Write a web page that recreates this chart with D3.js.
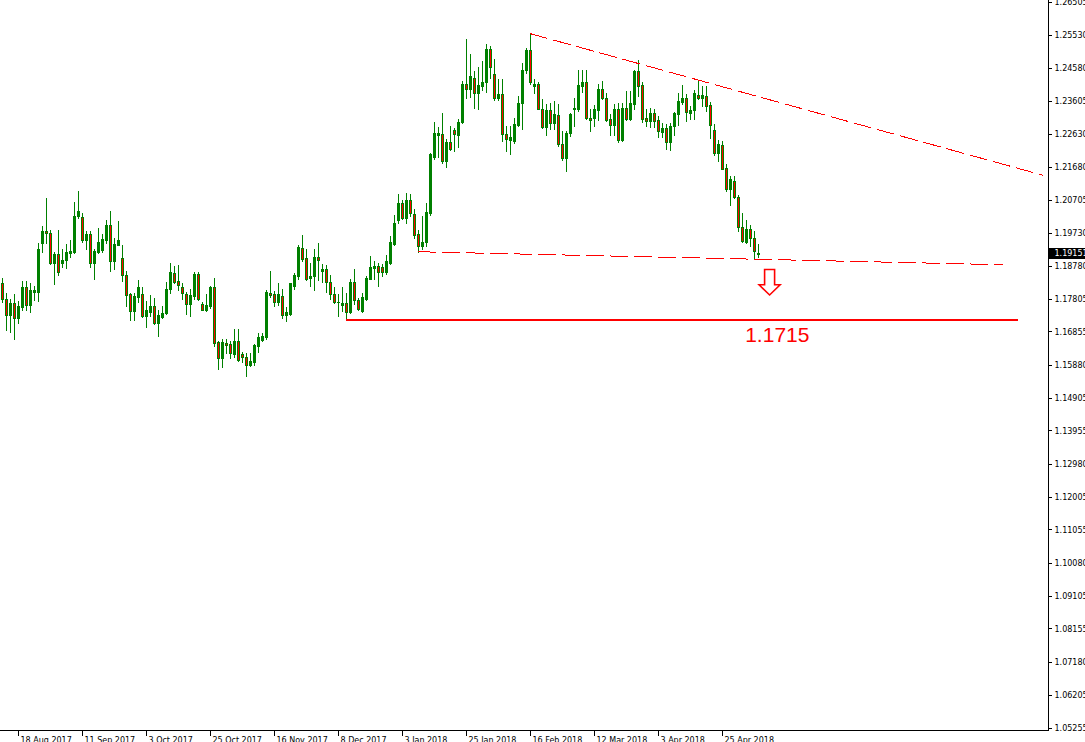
<!DOCTYPE html>
<html>
<head>
<meta charset="utf-8">
<script src="https://cdn.jsdelivr.net/npm/d3@7"></script>
<style>
  html, body { margin: 0; padding: 0; background: #ffffff; overflow: hidden; }
  svg { display: block; }
</style>
</head>
<body>
<svg id="chart" width="1085" height="742"></svg>
<script>
// ---------------- DATA ----------------
const startDate = "2017-08-14";
const holidays = ["2017-12-25", "2018-01-01"];

const openVals = [
1.1826,1.1782,1.1733,1.1769,1.1724,1.1757,1.1817,1.1762,1.1800,1.1800,
1.1944,1.1981,1.1975,1.1885,1.1911,1.1885,1.1894,1.1916,1.1918,1.2023,
1.2020,1.1953,1.1970,1.1885,1.1919,1.1923,1.1952,1.1996,1.1891,1.1940,
1.1902,1.1852,1.1794,1.1745,1.1787,1.1794,1.1730,1.1742,1.1761,1.1711,
1.1727,1.1739,1.1809,1.1858,1.1832,1.1817,1.1796,1.1767,1.1789,1.1854,
1.1767,1.1747,1.1761,1.1815,1.1654,1.1607,1.1653,1.1650,1.1620,1.1659,
1.1619,1.1612,1.1586,1.1595,1.1642,1.1660,1.1669,1.1798,1.1794,1.1771,
1.1789,1.1733,1.1737,1.1820,1.1849,1.1929,1.1902,1.1841,1.1847,1.1905,
1.1862,1.1867,1.1829,1.1796,1.1773,1.1764,1.1769,1.1743,1.1829,1.1779,
1.1745,1.1782,1.1840,1.1870,1.1876,1.1873,1.1859,1.1886,1.1942,1.2012,
1.2061,1.2019,1.2072,1.2031,1.1970,1.1935,1.1947,1.2032,1.2197,1.2262,
1.2263,1.2185,1.2239,1.2275,1.2261,1.2300,1.2410,1.2397,1.2429,1.2385,
1.2403,1.2417,1.2512,1.2439,1.2369,1.2380,1.2265,1.2247,1.2242,1.2291,
1.2354,1.2451,1.2509,1.2405,1.2410,1.2338,1.2284,1.2333,1.2295,1.2319,
1.2236,1.2194,1.2268,1.2336,1.2336,1.2405,1.2417,1.2312,1.2310,1.2334,
1.2395,1.2370,1.2307,1.2291,1.2338,1.2246,1.2341,1.2307,1.2351,1.2447,
1.2407,1.2310,1.2302,1.2324,1.2304,1.2269,1.2280,1.2241,1.2286,1.2321,
1.2358,1.2368,1.2326,1.2333,1.2379,1.2369,1.2376,1.2348,1.2277,1.2208,
1.2232,1.2163,1.2102,1.2127,1.2079,1.1992,1.1948,1.1987,1.1958,1.1912
];
const highVals = [
1.1841,1.1798,1.1782,1.1794,1.1776,1.1832,1.1832,1.1826,1.1820,1.1946,
1.1994,1.2075,1.1984,1.1918,1.1984,1.1926,1.1942,1.1954,1.2064,1.2096,
1.2033,1.1981,1.1979,1.1926,1.1990,1.1970,1.2012,1.2037,1.1960,1.2008,
1.1940,1.1862,1.1798,1.1798,1.1835,1.1817,1.1776,1.1791,1.1784,1.1747,
1.1761,1.1829,1.1885,1.1877,1.1879,1.1826,1.1800,1.1811,1.1861,1.1861,
1.1773,1.1796,1.1820,1.1841,1.1659,1.1662,1.1664,1.1657,1.1692,1.1692,
1.1626,1.1621,1.1621,1.1649,1.1681,1.1680,1.1808,1.1864,1.1805,1.1826,
1.1811,1.1756,1.1828,1.1857,1.1940,1.1967,1.1926,1.1887,1.1926,1.1945,
1.1882,1.1879,1.1852,1.1816,1.1794,1.1815,1.1798,1.1838,1.1867,1.1784,
1.1798,1.1847,1.1906,1.1893,1.1885,1.1882,1.1908,1.1965,1.2028,1.2087,
1.2072,1.2092,1.2087,1.2043,1.1984,1.2023,1.2063,1.2209,1.2300,1.2285,
1.2326,1.2248,1.2287,1.2280,1.2308,1.2419,1.2542,1.2498,1.2449,1.2460,
1.2478,1.2527,1.2522,1.2485,1.2424,1.2424,1.2287,1.2287,1.2312,1.2375,
1.2473,1.2517,1.2558,1.2424,1.2416,1.2366,1.2351,1.2356,1.2361,1.2351,
1.2273,1.2273,1.2324,1.2368,1.2451,1.2451,1.2451,1.2338,1.2348,1.2410,
1.2418,1.2385,1.2321,1.2351,1.2356,1.2356,1.2390,1.2390,1.2452,1.2480,
1.2417,1.2336,1.2341,1.2338,1.2316,1.2297,1.2292,1.2295,1.2328,1.2385,
1.2407,1.2380,1.2346,1.2393,1.2421,1.2405,1.2405,1.2358,1.2292,1.2245,
1.2242,1.2175,1.2141,1.2141,1.2085,1.2033,1.2011,1.1996,1.1979,1.1941
];
const lowVals = [
1.1771,1.1689,1.1683,1.1663,1.1709,1.1748,1.1748,1.1742,1.1777,1.1774,
1.1918,1.1946,1.1883,1.1824,1.1850,1.1873,1.1871,1.1903,1.1915,1.2018,
1.1949,1.1926,1.1874,1.1839,1.1915,1.1919,1.1945,1.1862,1.1869,1.1939,
1.1833,1.1759,1.1718,1.1720,1.1773,1.1729,1.1698,1.1732,1.1707,1.1671,
1.1724,1.1738,1.1798,1.1827,1.1806,1.1780,1.1736,1.1730,1.1780,1.1777,
1.1748,1.1744,1.1753,1.1642,1.1575,1.1580,1.1623,1.1607,1.1612,1.1600,
1.1597,1.1554,1.1583,1.1586,1.1625,1.1657,1.1664,1.1787,1.1761,1.1762,
1.1725,1.1715,1.1733,1.1811,1.1838,1.1891,1.1837,1.1819,1.1808,1.1836,
1.1831,1.1802,1.1781,1.1769,1.1730,1.1745,1.1720,1.1740,1.1767,1.1748,
1.1743,1.1779,1.1838,1.1838,1.1818,1.1847,1.1855,1.1884,1.1938,1.2004,
1.2016,1.2004,1.2023,1.1958,1.1919,1.1926,1.1935,1.2028,1.2190,1.2196,
1.2180,1.2168,1.2217,1.2214,1.2227,1.2297,1.2369,1.2371,1.2340,1.2338,
1.2392,1.2387,1.2429,1.2364,1.2363,1.2243,1.2215,1.2205,1.2238,1.2287,
1.2278,1.2444,1.2410,1.2385,1.2336,1.2280,1.2260,1.2279,1.2278,1.2229,
1.2188,1.2155,1.2258,1.2287,1.2331,1.2388,1.2308,1.2274,1.2287,1.2305,
1.2366,1.2302,1.2260,1.2260,1.2240,1.2243,1.2305,1.2305,1.2337,1.2376,
1.2299,1.2287,1.2285,1.2283,1.2255,1.2256,1.2219,1.2217,1.2260,1.2289,
1.2351,1.2302,1.2307,1.2307,1.2366,1.2346,1.2331,1.2251,1.2201,1.2184,
1.2160,1.2097,1.2057,1.2077,1.1979,1.1948,1.1945,1.1936,1.1898,1.1903
];
const closeVals = [
1.1781,1.1733,1.1770,1.1725,1.1761,1.1817,1.1762,1.1808,1.1808,1.1926,
1.1981,1.1974,1.1885,1.1911,1.1860,1.1896,1.1917,1.1921,1.2025,1.2037,
1.1952,1.1970,1.1885,1.1921,1.1949,1.1955,1.1996,1.1891,1.1943,1.1952,
1.1850,1.1792,1.1745,1.1789,1.1817,1.1732,1.1747,1.1761,1.1709,1.1735,
1.1740,1.1811,1.1860,1.1830,1.1821,1.1798,1.1767,1.1791,1.1855,1.1780,
1.1749,1.1763,1.1815,1.1651,1.1607,1.1654,1.1645,1.1622,1.1659,1.1603,
1.1611,1.1586,1.1598,1.1645,1.1668,1.1671,1.1800,1.1792,1.1771,1.1794,
1.1733,1.1742,1.1826,1.1852,1.1934,1.1899,1.1840,1.1849,1.1905,1.1896,
1.1868,1.1829,1.1796,1.1773,1.1771,1.1769,1.1743,1.1829,1.1778,1.1751,
1.1786,1.1841,1.1873,1.1876,1.1861,1.1860,1.1891,1.1947,1.2004,1.2061,
1.2019,1.2072,1.2033,1.1967,1.1937,1.1949,1.2035,1.2204,1.2266,1.2266,
1.2185,1.2239,1.2219,1.2265,1.2300,1.2410,1.2397,1.2434,1.2385,1.2407,
1.2416,1.2512,1.2459,1.2370,1.2380,1.2265,1.2250,1.2255,1.2294,1.2354,
1.2451,1.2509,1.2415,1.2410,1.2338,1.2284,1.2333,1.2296,1.2322,1.2236,
1.2194,1.2268,1.2321,1.2339,1.2407,1.2417,1.2311,1.2306,1.2338,1.2395,
1.2370,1.2305,1.2291,1.2338,1.2246,1.2341,1.2307,1.2356,1.2447,1.2405,
1.2307,1.2302,1.2324,1.2302,1.2272,1.2280,1.2241,1.2286,1.2324,1.2360,
1.2370,1.2328,1.2334,1.2383,1.2370,1.2377,1.2346,1.2290,1.2209,1.2235,
1.2162,1.2104,1.2131,1.2079,1.1991,1.1950,1.1987,1.1960,1.1922,1.19151
];

const priceTicks = [1.26505,1.25530,1.24580,1.23605,1.22630,1.21680,1.20705,1.19730,
  1.18780,1.17805,1.16855,1.15880,1.14905,1.13955,1.12980,1.12005,1.11055,1.10080,
  1.09105,1.08155,1.07180,1.06205,1.05255];
const dateTickLabels = ["18 Aug 2017","11 Sep 2017","3 Oct 2017","25 Oct 2017","16 Nov 2017",
  "8 Dec 2017","3 Jan 2018","25 Jan 2018","16 Feb 2018","12 Mar 2018","3 Apr 2018","25 Apr 2018"];

const currentPrice = 1.19151;
// trend lines: [barIndex, price]
const resistanceLine = [[132, 1.2558], [260.25, 1.2143]];
const necklineLine = [[104, 1.1919], [250.25, 1.1881]];
const targetLevel = [[86, 1.1720], [254, 1.1720]];
const targetLabel = { index: 185.8, price: 1.1655, text: "1.1715" };
const arrowAnchor = { index: 191.9, top: 1.1867, tip: 1.17923 };

// ---------------- BUILD DATES ----------------
const parse = d3.timeParse("%Y-%m-%d");
const fmtKey = d3.timeFormat("%Y-%m-%d");
const fmtLabel = d3.timeFormat("%-d %b %Y");
const dates = [];
{
  let d = parse(startDate);
  while (dates.length < openVals.length) {
    const wd = d.getDay();
    if (wd !== 0 && wd !== 6 && !holidays.includes(fmtKey(d))) dates.push(new Date(d));
    d = d3.timeDay.offset(d, 1);
  }
}
const bars = openVals.map((o, i) => ({
  i, date: dates[i], o, h: highVals[i], l: lowVals[i], c: closeVals[i]
}));
const dateTicks = dateTickLabels.map(lbl => dates.findIndex(d => fmtLabel(d) === lbl));

// ---------------- SCALES ----------------
const plotRight = 1048, axisBottomY = 730;
const x = d3.scaleLinear().domain([-0.5, 261.5]).range([0, plotRight]);
const y = d3.scaleLinear().domain([1.05255, 1.26505]).range([727.5, 2]);

const GREEN = "#008000", RED = "#ff0000";
const svg = d3.select("#chart");
svg.append("rect").attr("width", 1085).attr("height", 742).attr("fill", "#fff");

// ---------------- CANDLES ----------------
const gC = svg.append("g").attr("shape-rendering", "crispEdges");
const candle = gC.selectAll("g.c").data(bars).join("g").attr("class", "c");
candle.append("rect")
  .attr("x", d => Math.round(x(d.i)))
  .attr("width", 1)
  .attr("y", d => Math.round(y(d.h)))
  .attr("height", d => Math.round(y(d.l)) - Math.round(y(d.h)) + 1)
  .attr("fill", GREEN);
candle.append("rect")
  .attr("x", d => Math.round(x(d.i)) - 1)
  .attr("width", 3)
  .attr("y", d => Math.round(y(Math.max(d.o, d.c))))
  .attr("height", d => Math.max(1, Math.round(y(Math.min(d.o, d.c))) - Math.round(y(Math.max(d.o, d.c))) + 1))
  .attr("fill", GREEN);
candle.filter(d => d.c < d.o && (Math.round(y(d.c)) - Math.round(y(d.o))) >= 2)
  .append("rect")
  .attr("x", d => Math.round(x(d.i)))
  .attr("width", 1)
  .attr("y", d => Math.round(y(d.o)) + 1)
  .attr("height", d => Math.round(y(d.c)) - Math.round(y(d.o)) - 1)
  .attr("fill", RED);

// ---------------- ANNOTATIONS ----------------
const line = d3.line().x(d => x(d[0])).y(d => y(d[1]));
svg.append("path").datum(resistanceLine).attr("d", line)
  .attr("fill", "none").attr("stroke", RED).attr("stroke-width", 1)
  .attr("stroke-dasharray", "18,6").attr("shape-rendering", "crispEdges");
svg.append("path").datum(necklineLine).attr("d", line)
  .attr("fill", "none").attr("stroke", RED).attr("stroke-width", 1)
  .attr("stroke-dasharray", "18,6").attr("shape-rendering", "crispEdges");
svg.append("path").datum(targetLevel)
  .attr("d", d3.line().x(d => x(d[0])).y(d => Math.round(y(d[1]))))
  .attr("fill", "none").attr("stroke", RED).attr("stroke-width", 2)
  .attr("shape-rendering", "crispEdges");

svg.append("text")
  .attr("x", x(targetLabel.index)).attr("y", y(targetLabel.price))
  .attr("font-family", "'Liberation Sans', Arial, sans-serif")
  .attr("font-size", 21).attr("fill", RED)
  .text(targetLabel.text);

{
  const ax = x(arrowAnchor.index), at = y(arrowAnchor.top), tip = y(arrowAnchor.tip);
  const headY = at + (tip - at) * 0.6;
  const pts = [[ax - 5, at], [ax + 5, at], [ax + 5, headY], [ax + 10.5, headY],
               [ax, tip], [ax - 10.5, headY], [ax - 5, headY]];
  svg.append("polygon").attr("points", pts.map(p => p.join(",")).join(" "))
    .attr("fill", "#fff").attr("stroke", RED).attr("stroke-width", 1.6)
    .attr("stroke-linejoin", "miter");
}

// ---------------- AXES ----------------
const axisFont = "'DejaVu Sans', Tahoma, sans-serif";
const gR = svg.append("g").attr("transform", `translate(${plotRight + 0.5},0)`)
  .call(d3.axisRight(y).tickValues(priceTicks).tickSize(3).tickSizeOuter(0)
    .tickFormat(d3.format(".5f")));
gR.select(".domain").remove();
gR.selectAll(".tick line").attr("stroke", "#000").attr("shape-rendering", "crispEdges");
gR.selectAll(".tick text").attr("x", 6).attr("font-family", axisFont).attr("font-size", 8)
  .attr("fill", "#000");

const gB = svg.append("g").attr("transform", `translate(0,${axisBottomY + 0.5})`)
  .call(d3.axisBottom(x).tickValues(dateTicks).tickSize(5).tickSizeOuter(0)
    .tickFormat(i => fmtLabel(dates[i])));
gB.select(".domain").remove();
gB.selectAll(".tick line").attr("stroke", "#000").attr("shape-rendering", "crispEdges");
gB.selectAll(".tick text").attr("text-anchor", "start").attr("x", 2).attr("y", 12)
  .attr("dy", 0).attr("font-family", axisFont).attr("font-size", 8).attr("fill", "#000");

// axis frame lines
svg.append("line").attr("x1", plotRight + 0.5).attr("x2", plotRight + 0.5)
  .attr("y1", 0).attr("y2", axisBottomY + 1).attr("stroke", "#000").attr("shape-rendering", "crispEdges");
svg.append("line").attr("x1", 0).attr("x2", plotRight + 1)
  .attr("y1", axisBottomY + 0.5).attr("y2", axisBottomY + 0.5).attr("stroke", "#000")
  .attr("shape-rendering", "crispEdges");

// current price marker
{
  const py = Math.round(y(currentPrice));
  svg.append("rect").attr("x", plotRight + 1).attr("y", py - 5).attr("width", 1085 - plotRight)
    .attr("height", 11).attr("fill", "#000");
  svg.append("text").attr("x", plotRight + 6.5).attr("y", py).attr("dy", "0.32em")
    .attr("font-family", axisFont).attr("font-size", 8).attr("fill", "#fff")
    .text(d3.format(".5f")(currentPrice));
}
</script>
</body>
</html>
